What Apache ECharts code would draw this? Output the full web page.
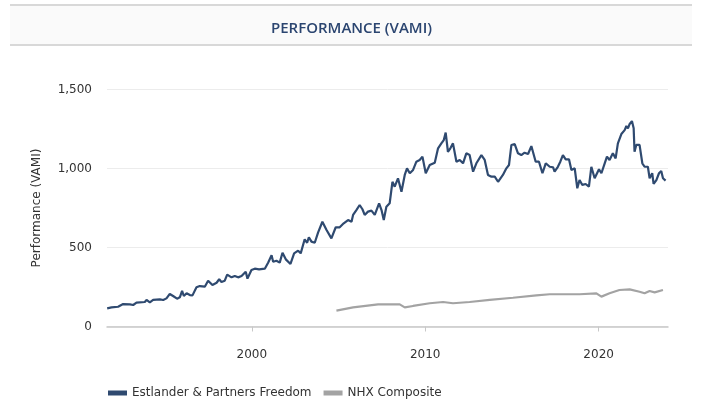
<!DOCTYPE html>
<html>
<head>
<meta charset="utf-8">
<script src="https://cdn.jsdelivr.net/npm/echarts@6/dist/echarts.min.js"></script>
<style>
  html, body { margin: 0; padding: 0; background: #fff; }
  #root { width: 703px; height: 403px; }
</style>
</head>
<body>
<div id="root"></div>
<script>
// Estlander & Partners Freedom (decimal year, VAMI)
const freedomYears = [
  1991.66, 1991.91, 1992.29, 1992.58, 1992.97, 1993.16, 1993.35, 1993.83, 1993.93, 1994.12,
  1994.31, 1994.70, 1994.89, 1995.08, 1995.27, 1995.46, 1995.69, 1995.85, 1995.98, 1996.08,
  1996.24, 1996.43, 1996.58, 1996.81, 1997.00, 1997.29, 1997.48, 1997.73, 1997.97, 1998.12,
  1998.25, 1998.44, 1998.58, 1998.83, 1999.02, 1999.21, 1999.41, 1999.65, 1999.75, 1999.98,
  2000.17, 2000.42, 2000.75, 2000.94, 2001.14, 2001.23, 2001.42, 2001.61, 2001.77, 2001.96,
  2002.23, 2002.44, 2002.67, 2002.82, 2003.05, 2003.19, 2003.29, 2003.44, 2003.63, 2003.82,
  2004.07, 2004.31, 2004.59, 2004.84, 2005.07, 2005.30, 2005.55, 2005.75, 2005.84, 2006.03,
  2006.22, 2006.38, 2006.51, 2006.70, 2006.90, 2007.09, 2007.34, 2007.48, 2007.61, 2007.76,
  2007.95, 2008.11, 2008.24, 2008.43, 2008.63, 2008.82, 2008.95, 2009.11, 2009.30, 2009.49,
  2009.68, 2009.84, 2010.03, 2010.26, 2010.55, 2010.74, 2010.93, 2011.07, 2011.18, 2011.31,
  2011.45, 2011.60, 2011.80, 2011.99, 2012.18, 2012.37, 2012.56, 2012.76, 2012.95, 2013.24,
  2013.43, 2013.62, 2013.82, 2014.01, 2014.20, 2014.29, 2014.48, 2014.68, 2014.83, 2014.97,
  2015.16, 2015.35, 2015.54, 2015.73, 2015.93, 2016.12, 2016.37, 2016.56, 2016.76, 2016.95,
  2017.18, 2017.37, 2017.46, 2017.65, 2017.79, 2017.94, 2018.10, 2018.29, 2018.43, 2018.62,
  2018.77, 2018.90, 2019.06, 2019.25, 2019.44, 2019.58, 2019.77, 2020.02, 2020.16, 2020.35,
  2020.48, 2020.63, 2020.82, 2020.98, 2021.11, 2021.31, 2021.50, 2021.60, 2021.69, 2021.79,
  2021.92, 2022.02, 2022.07, 2022.17, 2022.36, 2022.52, 2022.65, 2022.84, 2022.94, 2023.09,
  2023.17, 2023.33, 2023.48, 2023.61, 2023.71, 2023.86
];
const freedomValues = [
  115, 121, 125, 142, 140, 136, 151, 155, 168, 153,
  168, 172, 168, 178, 206, 193, 176, 185, 225, 193,
  210, 199, 197, 248, 256, 252, 290, 263, 277, 299,
  282, 290, 328, 311, 320, 311, 320, 347, 303, 358,
  366, 362, 366, 404, 451, 410, 416, 404, 467, 425,
  396, 463, 480, 463, 552, 530, 565, 537, 530, 594,
  663, 611, 558, 628, 628, 653, 674, 663, 706, 737,
  769, 742, 706, 727, 733, 706, 780, 737, 674, 758,
  780, 916, 885, 938, 853, 959, 1001, 970, 991, 1043,
  1054, 1075, 970, 1022, 1037, 1128, 1159, 1180, 1227, 1106,
  1128, 1159, 1043, 1054, 1033, 1096, 1085, 980, 1033, 1085,
  1054, 959, 948, 948, 916, 927, 959, 1001, 1022, 1149,
  1155, 1096, 1085, 1100, 1092, 1142, 1043, 1043, 970, 1033,
  1011, 1008, 980, 1011, 1043, 1085, 1058, 1058, 991, 1001,
  875, 927, 896, 902, 885, 1011, 938, 995, 970, 1033,
  1075, 1054, 1096, 1064, 1159, 1218, 1243, 1269, 1254, 1282,
  1300, 1254, 1106, 1149, 1149, 1033, 1011, 1011, 938, 970,
  902, 927, 970, 984, 938, 923
];

// NHX Composite
const nhxYears = [
  2004.88, 2005.84, 2007.28, 2008.53, 2008.82, 2009.30, 2010.26, 2011.03, 2011.60, 2012.56,
  2013.72, 2015.06, 2016.41, 2017.18, 2018.90, 2019.87, 2020.16, 2020.63, 2021.20, 2021.79,
  2022.36, 2022.65, 2022.94, 2023.23, 2023.71
];
const nhxValues = [
  100, 121, 140, 140, 121, 130, 147, 155, 147, 155,
  168, 182, 197, 204, 204, 210, 189, 210, 231, 235,
  220, 210, 225, 216, 231
];

const yearTicks = [2000, 2010, 2020];

const freedomData = freedomYears.map((y, i) => [y, freedomValues[i]]);
const nhxData = nhxYears.map((y, i) => [y, nhxValues[i]]);

let myChart = echarts.init(document.getElementById('root'));

const textFont = 'DejaVu Sans';

let option = {
  animation: false,
  title: {
    text: 'PERFORMANCE (VAMI)',
    left: 'center',
    top: 16,
    textStyle: {
      fontFamily: 'Open Sans',
      fontSize: 15,
      fontWeight: 600,
      color: '#2b4570'
    }
  },
  graphic: [
    {
      type: 'rect',
      z: -10,
      shape: { x: 10, y: 5, width: 682, height: 40 },
      style: { fill: '#fafafa' }
    },
    {
      type: 'line',
      z: -9,
      shape: { x1: 10, y1: 5, x2: 692, y2: 5 },
      style: { stroke: '#d8d8d8', lineWidth: 2 }
    },
    {
      type: 'line',
      z: -9,
      shape: { x1: 10, y1: 45, x2: 692, y2: 45 },
      style: { stroke: '#d8d8d8', lineWidth: 2 }
    }
  ],
  legend: {
    left: 103,
    top: 382,
    icon: 'rect',
    itemWidth: 19,
    itemHeight: 5,
    itemGap: 12,
    textStyle: { fontFamily: textFont, fontSize: 12, color: '#333' },
    data: ['Estlander & Partners Freedom', 'NHX Composite']
  },
  grid: {
    left: 107,
    right: 35,
    top: 89.5,
    bottom: 76.5
  },
  xAxis: {
    type: 'value',
    min: 1991.65,
    max: 2024.0,
    splitLine: { show: false },
    axisLine: { lineStyle: { color: '#c8c8c8', width: 1.5 } },
    axisTick: {
      customValues: yearTicks,
      length: 5,
      lineStyle: { color: '#c8c8c8' }
    },
    axisLabel: {
      customValues: yearTicks,
      margin: 22,
      fontFamily: textFont,
      fontSize: 12,
      color: '#333',
      formatter: v => String(v)
    }
  },
  yAxis: {
    type: 'value',
    min: 0,
    max: 1500,
    interval: 500,
    name: 'Performance (VAMI)',
    nameLocation: 'middle',
    nameGap: 64,
    nameTextStyle: { fontFamily: textFont, fontSize: 12, color: '#333' },
    axisLine: { show: false },
    axisTick: { show: false },
    axisLabel: { margin: 15, fontFamily: textFont, fontSize: 12, color: '#333' },
    splitLine: { lineStyle: { color: '#ececec' } }
  },
  series: [
    {
      name: 'Estlander & Partners Freedom',
      type: 'line',
      showSymbol: false,
      data: freedomData,
      itemStyle: { color: '#2f4a70' },
      lineStyle: { color: '#2f4a70', width: 2.2 }
    },
    {
      name: 'NHX Composite',
      type: 'line',
      showSymbol: false,
      data: nhxData,
      itemStyle: { color: '#a3a3a3' },
      lineStyle: { color: '#a3a3a3', width: 2.2 }
    }
  ]
};

myChart.setOption(option);
</script>
</body>
</html>
